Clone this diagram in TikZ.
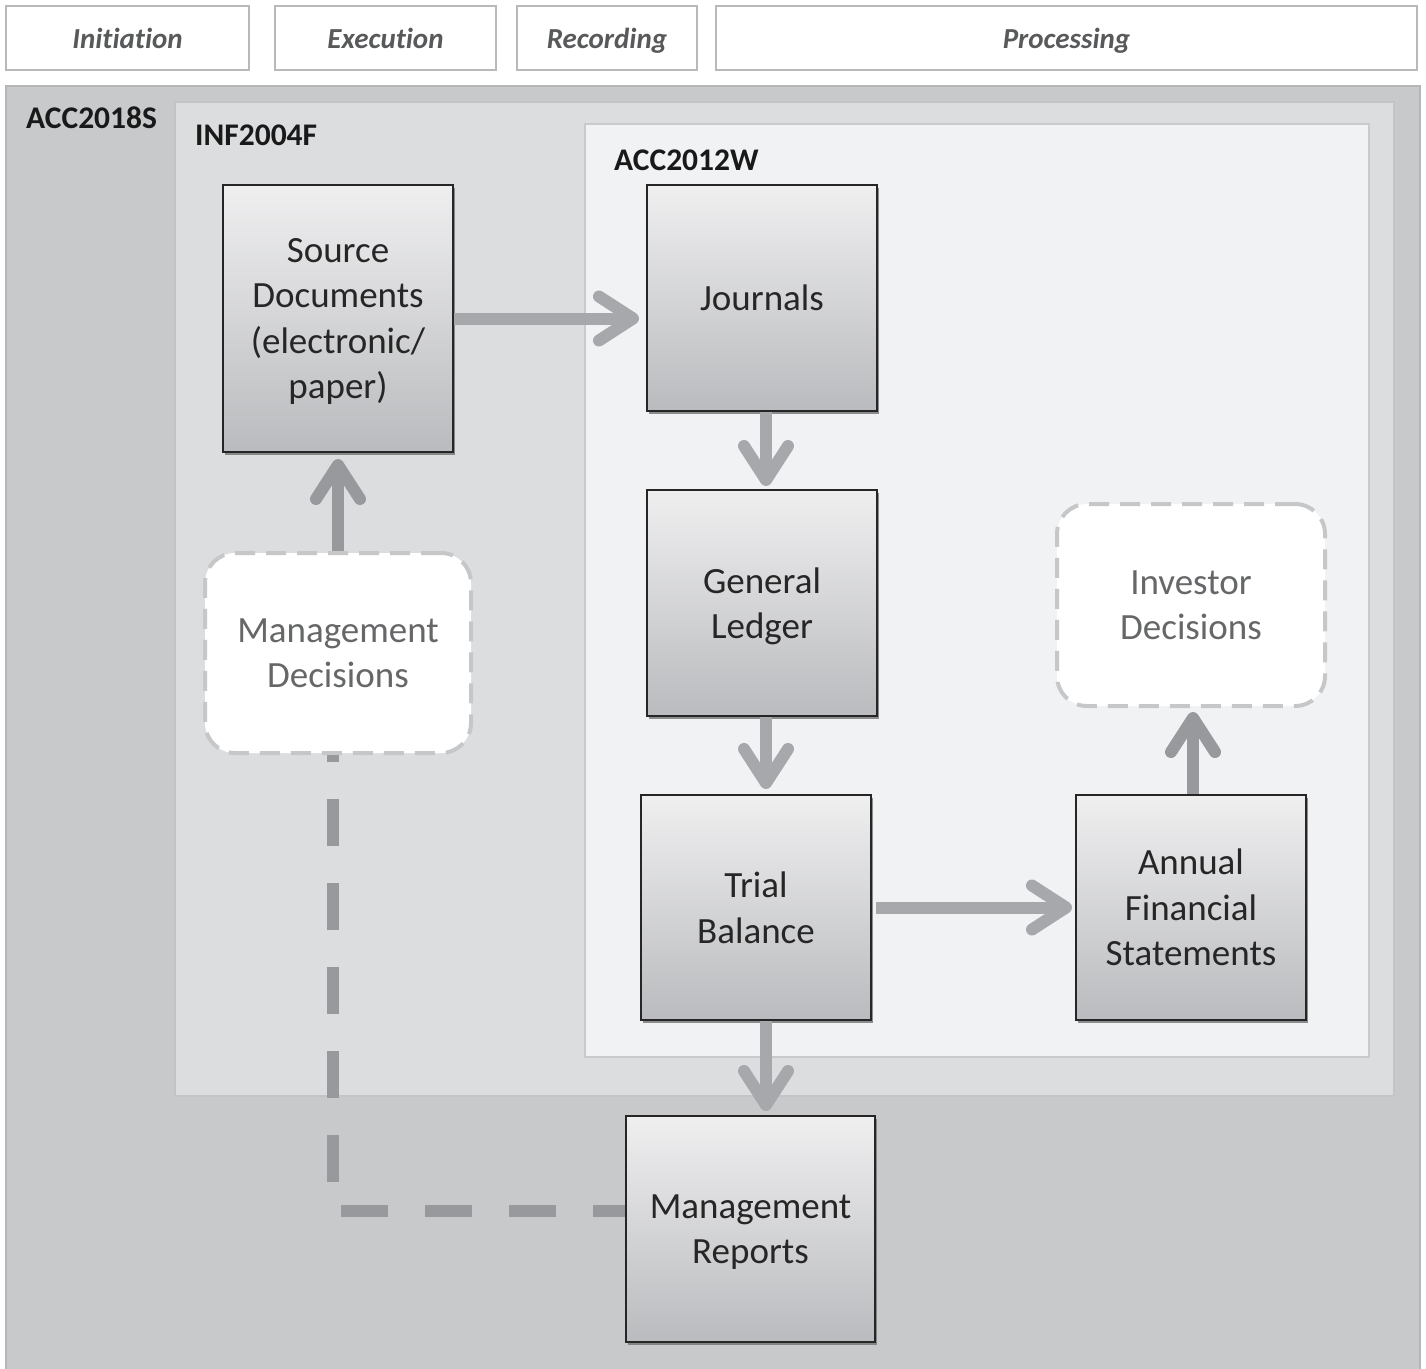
\documentclass[tikz,border=0pt]{standalone}
\usepackage{fontspec}
\setmainfont{Carlito}[Ligatures=NoCommon]
\usetikzlibrary{arrows.meta,shadows}
\definecolor{hdrline}{HTML}{B9B9BB}
\definecolor{hdrtext}{HTML}{58595B}
\definecolor{outerfill}{HTML}{C8C9CB}
\definecolor{outerline}{HTML}{B5B6B8}
\definecolor{midfill}{HTML}{DCDDDF}
\definecolor{midline}{HTML}{C3C4C6}
\definecolor{innerfill}{HTML}{F1F2F4}
\definecolor{innerline}{HTML}{C9CACC}
\definecolor{boxtop}{HTML}{EFEFF0}
\definecolor{boxbot}{HTML}{BABBBE}
\definecolor{arrowlight}{HTML}{A7A8AB}
\definecolor{arrowdark}{HTML}{98999C}
\definecolor{dashbox}{HTML}{C6C7C9}
\definecolor{dectext}{HTML}{666769}
\begin{document}
\begin{tikzpicture}[x=1pt,y=-1pt,
  hdr/.style={draw=hdrline,line width=1.5pt,fill=white,minimum height=64pt,
    font=\fontsize{29}{34}\selectfont\bfseries\itshape,text=hdrtext,inner sep=0pt,
    text height=20pt,text depth=0pt},
  lane/.style={font=\fontsize{31.5}{36}\selectfont\bfseries,text=black!90,anchor=west,inner sep=0pt},
  procbox/.style={draw=black!85,line width=2pt,top color=boxtop,bottom color=boxbot,
    minimum width=230pt,minimum height=226pt,align=center,inner sep=0pt,text depth=0pt,
    font=\fontsize{37}{45.5}\selectfont,text=black!85,
    drop shadow={shadow xshift=2pt,shadow yshift=-3pt,fill=black!55,opacity=0.8}},
  decbox/.style={draw=dashbox,line width=4pt,dash pattern=on 20pt off 11pt,fill=white,
    rounded corners=30pt,align=center,inner sep=0pt,text depth=0pt,
    font=\fontsize{37}{45.5}\selectfont,text=dectext},
  flow/.style={draw=arrowlight,line width=12pt,
    -{Straight Barb[length=34pt,width=44pt,round]}},
  flowup/.style={flow,draw=arrowdark},
  dashflow/.style={draw=arrowdark,line width=12pt,dash pattern=on 47pt off 37pt,dash phase=15pt}
]
\useasboundingbox (0,0) rectangle (1426,1368);
\fill[white] (0,0) rectangle (1426,1368);
% header
\node[hdr,minimum width=243pt] (h1) at (127.5,38) {Initiation};
\node[hdr,minimum width=221pt] (h2) at (385.5,38) {Execution};
\node[hdr,minimum width=180pt] (h3) at (607,38) {Recording};
\node[hdr,minimum width=701pt] (h4) at (1066.5,38) {Processing};
% containers
\draw[fill=outerfill,draw=outerline,line width=2pt] (6,86) rectangle (1420,1372);
\draw[fill=midfill,draw=midline,line width=2pt] (175,102) rectangle (1394,1096);
\draw[fill=innerfill,draw=innerline,line width=2pt] (585,124) rectangle (1369,1057);
\node[lane] (l1) at (26,118) {ACC2018S};
\node[lane] (l2) at (195,135) {INF2004F};
\node[lane] (l3) at (614,160) {ACC2012W};
% process boxes
\node[procbox,minimum height=267pt] (sd) at (338,318.5) {Source\\Documents\\(electronic/\\paper)};
\node[procbox] (j) at (762,298) {Journals};
\node[procbox] (gl) at (762,603) {General\\Ledger};
\node[procbox,minimum height=225pt] (tb) at (756,907.5) {Trial\\Balance};
\node[procbox,minimum height=225pt] (afs) at (1191,907.5) {Annual\\Financial\\Statements};
\node[procbox,minimum width=249pt] (mr) at (750.5,1229) {Management\\Reports};
\node[decbox,minimum width=266pt,minimum height=200pt] (md) at (338,653) {Management\\Decisions};
\node[decbox,minimum width=268pt,minimum height=202pt] (id) at (1191,605) {Investor\\Decisions};
% connectors
\coordinate (ax) at (766,0);
\coordinate (bx) at (1193,0);
\coordinate (cx) at (333,0);
\coordinate (dy) at (0,1211);
\draw[flow,shorten >=7pt] (sd.east) -- (sd.east -| j.west);
\draw[flow,shorten >=3pt] (j.south -| ax) -- (gl.north -| ax);
\draw[flow,shorten >=5pt] (gl.south -| ax) -- (tb.north -| ax);
\draw[flow,shorten >=4pt] (tb.south -| ax) -- (mr.north -| ax);
\draw[flow,shorten <=4pt,shorten >=3pt] (tb.east) -- (afs.west);
\draw[flowup,shorten >=4pt] (afs.north -| bx) -- (id.south -| bx);
\draw[flowup,shorten >=6pt] (md.north) -- (sd.south);
\draw[dashflow] (mr.west |- dy) -| (md.south -| cx);
\end{tikzpicture}
\end{document}
